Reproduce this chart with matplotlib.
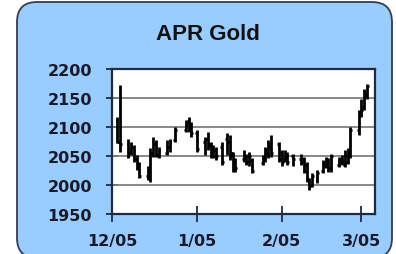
import pandas as pd
import matplotlib
matplotlib.use('Agg')
import matplotlib.pyplot as plt
import matplotlib.dates as mdates
from matplotlib.patches import FancyBboxPatch

title = 'APR Gold'

dates = ['2023-12-07', '2023-12-08', '2023-12-11', '2023-12-12', '2023-12-13', '2023-12-14',
         '2023-12-15', '2023-12-18', '2023-12-19', '2023-12-20', '2023-12-21', '2023-12-22',
         '2023-12-25', '2023-12-26', '2023-12-28', '2024-01-01', '2024-01-02', '2024-01-03',
         '2024-01-05', '2024-01-08', '2024-01-09', '2024-01-10', '2024-01-11', '2024-01-12',
         '2024-01-14', '2024-01-16', '2024-01-17', '2024-01-18', '2024-01-19', '2024-01-22',
         '2024-01-23', '2024-01-24', '2024-01-25', '2024-01-29', '2024-01-30', '2024-01-31',
         '2024-02-01', '2024-02-04', '2024-02-05', '2024-02-06', '2024-02-07', '2024-02-09',
         '2024-02-12', '2024-02-13', '2024-02-14', '2024-02-15', '2024-02-16', '2024-02-18',
         '2024-02-20', '2024-02-21', '2024-02-22', '2024-02-23', '2024-02-26', '2024-02-27',
         '2024-02-28', '2024-02-29', '2024-03-01', '2024-03-04', '2024-03-05', '2024-03-06',
         '2024-03-07']

highs = [2117, 2173, 2080, 2074, 2069, 2052, 2040, 2032, 2063, 2083, 2077, 2066, 2077, 2080,
         2100, 2112, 2117, 2109, 2094, 2083, 2092, 2074, 2069, 2066, 2074, 2089, 2086, 2057,
         2046, 2060, 2054, 2057, 2046, 2052, 2066, 2077, 2086, 2074, 2060, 2060, 2057, 2054,
         2054, 2049, 2040, 2012, 2020, 2026, 2043, 2049, 2046, 2054, 2049, 2052, 2060, 2063,
         2100, 2129, 2149, 2166, 2174]
lows = [2072, 2057, 2046, 2052, 2040, 2026, 2012, 2009, 2006, 2049, 2049, 2046, 2052, 2057,
        2074, 2092, 2092, 2083, 2057, 2052, 2060, 2046, 2046, 2043, 2034, 2052, 2043, 2023,
        2023, 2040, 2034, 2032, 2020, 2034, 2040, 2046, 2049, 2040, 2032, 2040, 2034, 2032,
        2034, 2020, 2006, 1992, 1997, 2003, 2020, 2029, 2023, 2023, 2031, 2034, 2031, 2037,
        2046, 2086, 2117, 2129, 2149]
opens = [2110, 2075, 2070, 2060, 2065, 2045, 2035, 2015, 2015, 2055, 2070, 2050, 2055, 2065,
         2078, 2095, 2110, 2105, 2090, 2075, 2080, 2070, 2060, 2060, 2065, 2080, 2075, 2055,
         2040, 2045, 2050, 2050, 2043, 2038, 2045, 2055, 2065, 2070, 2055, 2045, 2052, 2050,
         2045, 2045, 2035, 2010, 2000, 2008, 2025, 2032, 2040, 2030, 2035, 2040, 2035, 2040,
         2050, 2095, 2120, 2135, 2155]
closes = [2075, 2070, 2055, 2065, 2045, 2035, 2015, 2012, 2055, 2070, 2052, 2058, 2065, 2075,
          2095, 2105, 2100, 2090, 2062, 2080, 2068, 2060, 2050, 2050, 2040, 2075, 2050, 2040,
          2030, 2050, 2040, 2050, 2025, 2045, 2060, 2070, 2055, 2045, 2040, 2052, 2040, 2045,
          2040, 2025, 2010, 1998, 2015, 2020, 2038, 2045, 2030, 2050, 2045, 2040, 2050, 2055,
          2095, 2125, 2130, 2160, 2170]

tick_dates = ['2023-12-05', '2024-01-05', '2024-02-05', '2024-03-05']
tick_labels = ['12/05', '1/05', '2/05', '3/05']
y_ticks = [1950, 2000, 2050, 2100, 2150, 2200]
grid_y = [2000, 2050, 2100, 2150]

fig = plt.figure(figsize=(3.96, 2.55), dpi=100)
fig.patch.set_facecolor('white')

# rounded blue panel behind everything, in pixel coords
bg = fig.add_axes([0, 0, 1, 1], zorder=0)
bg.set_xlim(0, 396)
bg.set_ylim(255, 0)
bg.axis('off')
bg.add_patch(FancyBboxPatch((17, 3), 375, 256, boxstyle='round,pad=0,rounding_size=20',
                            facecolor='#99ccff', edgecolor='#333d52', linewidth=1.3))

fig.text(208 / 396, 1 - 40 / 255, title, ha='center', va='baseline',
         fontsize=16, fontweight='bold', family='Liberation Sans', color='#111111')

ax = fig.add_axes([112 / 396, 40 / 255, 263 / 396, 145 / 255], zorder=1)
ax.set_facecolor('white')

x = mdates.date2num(pd.to_datetime(dates))
ax.vlines(x, lows, highs, color='black', linewidth=2.0, zorder=3)
ax.hlines(opens, x - 0.7, x, color='black', linewidth=2.0, zorder=3)
ax.hlines(closes, x, x + 0.7, color='black', linewidth=2.0, zorder=3)

ax.set_ylim(1950, 2200)
ax.set_yticks(y_ticks)
ax.set_xlim(mdates.date2num(pd.Timestamp('2023-12-05')), mdates.date2num(pd.Timestamp('2024-03-10')))
ax.set_xticks(mdates.date2num(pd.to_datetime(tick_dates)))
ax.set_xticklabels(tick_labels)

# horizontal grid lines, spanning the full axes width
for gy in grid_y:
    ax.axhline(gy, color='#7f7f7f', linewidth=1.3, zorder=2.5)

for s in ax.spines.values():
    s.set_color('#1f2a44')
    s.set_linewidth(1.6)

ax.tick_params(axis='y', direction='inout', length=9, width=1.3, color='#1f2a44', pad=10)
ax.tick_params(axis='x', direction='inout', length=12, width=1.3, color='#1f2a44', pad=8)
for lab in ax.get_xticklabels() + ax.get_yticklabels():
    lab.set_fontweight('bold')
    lab.set_fontsize(11.5)
    lab.set_color('#1a1a2a')

fig.savefig('out.png', dpi=100)
